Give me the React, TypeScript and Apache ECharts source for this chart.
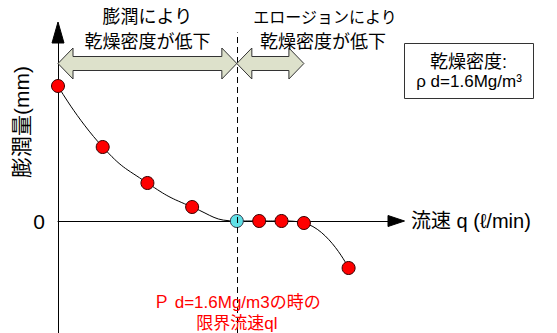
import React, { useEffect, useRef } from 'react';
import * as echarts from 'echarts';

// ---- data ----
const flowRate = [0, 2, 4, 6, 8, 9, 10, 11, 13];
const swelling = [13.5, 7.4, 3.8, 1.4, 0, 0, 0, -0.2, -4.7];
const criticalIndex = 4; // cyan point: critical flow rate ql
const yTickLabels = ['0'];
const xAxisName = '流速 q (ℓ/min)';
const yAxisName = '膨潤量(mm)';
const leftNoteLines = ['膨潤により', '乾燥密度が低下'];
const rightNoteLines = ['エロージョンにより', '乾燥密度が低下'];
const boxLines = ['乾燥密度:', 'ρ d=1.6Mg/m³'];
const criticalLines = ['Ｐ d=1.6Mg/m3の時の', '限界流速ql'];
const swellZone = [0, 8];
const erosionZone = [8, 11];
const xRange = [0, 15.12];
const yRange = [-11.2, 18.85];

const FONT = "'Liberation Sans', 'Noto Sans CJK JP', sans-serif";
const GRID = { left: 58, right: 161, top: 32.5, bottom: 0 };
const W = 557, H = 333;

function dblArrow(x1: number, x2: number, cy: number) {
  const hl = 15, hh = 15.5, bh = 7;
  return [
    [x1, cy], [x1 + hl, cy - hh], [x1 + hl, cy - bh], [x2 - hl, cy - bh], [x2 - hl, cy - hh],
    [x2, cy], [x2 - hl, cy + hh], [x2 - hl, cy + bh], [x1 + hl, cy + bh], [x1 + hl, cy + hh],
  ];
}

export default function App() {
  const ref = useRef<HTMLDivElement>(null);
  useEffect(() => {
    if (!ref.current) return;
    const chart = echarts.init(ref.current, null, { renderer: 'svg' });
    const pts = flowRate.map((x, i) => [x, swelling[i]]);
    chart.setOption({
      animation: false,
      grid: { ...GRID, outerBoundsMode: 'none' },
      xAxis: {
        type: 'value', min: xRange[0], max: xRange[1],
        name: xAxisName, nameLocation: 'end', nameGap: 15,
        nameTextStyle: { fontSize: 20, color: '#000', fontFamily: FONT },
        axisLine: { onZero: true, lineStyle: { color: '#000', width: 1 } },
        axisTick: { show: false }, axisLabel: { show: false }, splitLine: { show: false },
      },
      yAxis: {
        type: 'value', min: yRange[0], max: yRange[1],
        axisLine: { show: true, lineStyle: { color: '#000', width: 1 } },
        axisTick: { show: false }, splitLine: { show: false },
        axisLabel: {
          show: true, margin: 13, fontSize: 21, color: '#000', fontFamily: FONT,
          formatter: (v: number) => (yTickLabels.includes(String(v)) ? String(v) : ''),
        },
      },
      series: [
        {
          type: 'line', data: pts, smooth: 0.5, symbol: 'none', z: 2,
          lineStyle: { color: '#000', width: 1 },
          markLine: {
            silent: true, symbol: 'none', label: { show: false },
            lineStyle: { color: '#000', width: 1, type: [6, 4] },
            data: [{ xAxis: flowRate[criticalIndex] }],
          },
        },
        {
          type: 'scatter', data: pts.filter((_, i) => i !== criticalIndex), symbolSize: 13, z: 3,
          itemStyle: { color: '#ff0000', borderColor: '#330000', borderWidth: 1, opacity: 1 },
        },
        {
          type: 'scatter', data: [pts[criticalIndex]], symbolSize: 13, z: 3,
          itemStyle: { color: '#5fe0e6', borderColor: '#334', borderWidth: 1, opacity: 1 },
        },
      ],
    });
    const gw = W - GRID.left - GRID.right, gh = H - GRID.top - GRID.bottom;
    const px = (v: number) => GRID.left + ((v - xRange[0]) / (xRange[1] - xRange[0])) * gw;
    const py = (v: number) => GRID.top + ((yRange[1] - v) / (yRange[1] - yRange[0])) * gh;
    const cy = 63.5;
    const txt = (text: string, x: number, y: number, size: number, color = '#000') => ({
      type: 'text', x, y, z: 10,
      style: { text, fill: color, font: `${size}px ${FONT}`, align: 'center', verticalAlign: 'middle' },
    });
    const qlX = px(flowRate[criticalIndex]);
    const x0 = px(0), y0 = py(0);
    const xEnd = px(xRange[1]), yTop = py(yRange[1]);
    chart.setOption({
      graphic: [
        { type: 'polygon', z: 20, shape: { points: [[x0, yTop - 10.5], [x0 - 6, yTop + 10.5], [x0 + 6, yTop + 10.5]] }, style: { fill: '#000', stroke: '#000', lineWidth: 1 } },
        { type: 'polygon', z: 20, shape: { points: [[xEnd + 8.5, y0], [xEnd - 8, y0 - 5.5], [xEnd - 8, y0 + 5.5]] }, style: { fill: '#000', stroke: '#000', lineWidth: 1 } },
        { type: 'polygon', z: 5, shape: { points: dblArrow(px(swellZone[0]), px(swellZone[1]), cy) }, style: { fill: '#dde1cb', stroke: '#333', lineWidth: 1 } },
        { type: 'polygon', z: 5, shape: { points: dblArrow(px(erosionZone[0]), px(erosionZone[1]), cy) }, style: { fill: '#dde1cb', stroke: '#333', lineWidth: 1 } },
        txt(leftNoteLines[0], (px(swellZone[0]) + px(swellZone[1])) / 2, 17, 18),
        txt(leftNoteLines[1], (px(swellZone[0]) + px(swellZone[1])) / 2, 42, 18),
        txt(rightNoteLines[0], 325, 17, 16),
        txt(rightNoteLines[1], 323, 42, 18),
        { type: 'rect', z: 5, shape: { x: 404.5, y: 43.5, width: 129, height: 55 }, style: { fill: '#fff', stroke: '#333', lineWidth: 1 } },
        txt(boxLines[0], 468.5, 62, 18),
        txt(boxLines[1], 469, 81.5, 17),
        txt(criticalLines[0], qlX, 302, 17, '#ff0000'),
        txt(criticalLines[1], qlX, 323, 17, '#ff0000'),
        { type: 'text', x: 21, y: 122, rotation: Math.PI / 2, z: 10,
          style: { text: yAxisName, fill: '#000', font: `21px ${FONT}`, align: 'center', verticalAlign: 'middle' } },
      ],
    });
    return () => chart.dispose();
  }, []);
  return <div ref={ref} style={{ position: 'absolute', left: 0, top: 0, width: W, height: H }} />;
}
